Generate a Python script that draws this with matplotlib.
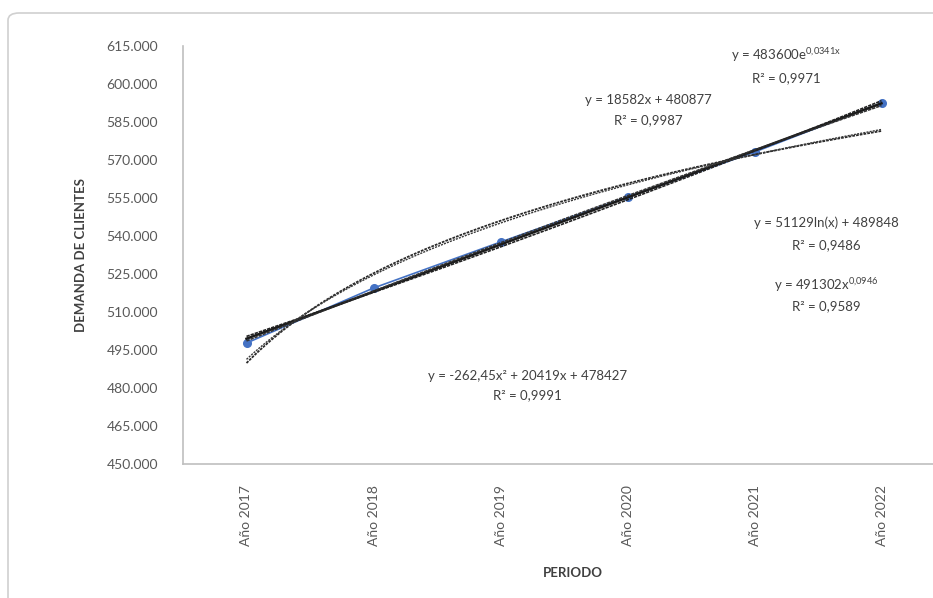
import numpy as np
import matplotlib
matplotlib.use('Agg')
import matplotlib.pyplot as plt
from matplotlib.patches import FancyBboxPatch
from matplotlib.ticker import FuncFormatter

periodos = ['Año 2017', 'Año 2018', 'Año 2019', 'Año 2020', 'Año 2021', 'Año 2022']
demanda = [497750, 519460, 537620, 555390, 573150, 592500]

# coeficientes de las lineas de tendencia (tal como aparecen en el grafico)
lin_a, lin_b = 18582, 480877
cuad_a, cuad_b, cuad_c = -262.45, 20419, 478427
exp_a, exp_b = 483600, 0.0341
log_a, log_b = 51129, 489848
pot_a, pot_b = 491302, 0.0946

plt.rcParams['font.family'] = ['Lato', 'DejaVu Sans']
plt.rcParams['mathtext.fontset'] = 'custom'
plt.rcParams['mathtext.rm'] = 'Lato'

fig = plt.figure(figsize=(9.33, 5.98), dpi=100)
ax = fig.add_axes([183/933, 1 - 464/598, (945 - 183)/933, (464 - 46)/598])

# marco del grafico
marco = FancyBboxPatch((8/933, -0.2), 1.2, 1 - 13/598 + 0.2,
                       boxstyle='round,pad=0,rounding_size=0.012',
                       transform=fig.transFigure, fill=False,
                       edgecolor='#D0D0D0', linewidth=1.2, zorder=0)
fig.patches.append(marco)

x = np.arange(1, len(periodos) + 1)
xs = np.linspace(1, len(periodos), 200)

ax.plot(x, demanda, color='#4472C4', linewidth=1.2, marker='o',
        markersize=5.5, zorder=2)

ax.plot(xs, lin_a * xs + lin_b, color='#1a1a1a', linewidth=1.8, zorder=3)
ax.plot(xs, cuad_a * xs**2 + cuad_b * xs + cuad_c, color='#333333',
        linewidth=1.2, linestyle=(0, (2, 0.6)), zorder=3)
ax.plot(xs, exp_a * np.exp(exp_b * xs), color='#222222', linewidth=1.2,
        linestyle=(0, (2, 0.6)), zorder=3)
ax.plot(xs, log_a * np.log(xs) + log_b, color='#2a2a2a', linewidth=1.3,
        linestyle=(0, (1.5, 0.6)), zorder=3)
ax.plot(xs, pot_a * xs**pot_b, color='#3a3a3a', linewidth=1.0,
        linestyle=(0, (1.5, 0.8)), zorder=3)

ax.set_xlim(0.5, len(periodos) + 0.5)
ax.set_ylim(450000, 615000)
ax.set_yticks(np.arange(450000, 615001, 15000))
ax.yaxis.set_major_formatter(FuncFormatter(lambda v, p: f'{int(v):,}'.replace(',', '.')))
ax.set_xticks(x)
ax.set_xticklabels(periodos, rotation=90)
ax.tick_params(axis='both', length=0, labelsize=10, colors='#595959')
ax.tick_params(axis='y', pad=18)
ax.tick_params(axis='x', pad=15)

for s in ['top', 'right']:
    ax.spines[s].set_visible(False)
for s in ['left', 'bottom']:
    ax.spines[s].set_color('#BFBFBF')
    ax.spines[s].set_linewidth(1.2)

ax.set_ylabel('DEMANDA DE CLIENTES', fontsize=9.5, fontweight='bold',
              color='#404040', labelpad=14)
fig.text(573/933, 1 - 573/598, 'PERIODO', fontsize=9.5, fontweight='bold',
         color='#404040', ha='center', va='center')

# etiquetas de las ecuaciones
etiquetas = [
    (786, 55, 'y = 483600e$^{\\mathrm{0{,}0341x}}$', 78, 'R² = 0,9971'),
    (648, 100, 'y = 18582x + 480877', 120, 'R² = 0,9987'),
    (826, 223, 'y = 51129ln(x) + 489848', 245, 'R² = 0,9486'),
    (826, 285, 'y = 491302x$^{\\mathrm{0{,}0946}}$', 306, 'R² = 0,9589'),
    (527, 376, 'y = -262,45x² + 20419x + 478427', 395, 'R² = 0,9991'),
]
for px, py, eq, py2, r2 in etiquetas:
    fig.text(px/933, 1 - py/598, eq, fontsize=9.5, color='#404040',
             ha='center', va='center')
    fig.text(px/933, 1 - py2/598, r2, fontsize=9.5, color='#404040',
             ha='center', va='center')

fig.savefig('out.png', dpi=100)
